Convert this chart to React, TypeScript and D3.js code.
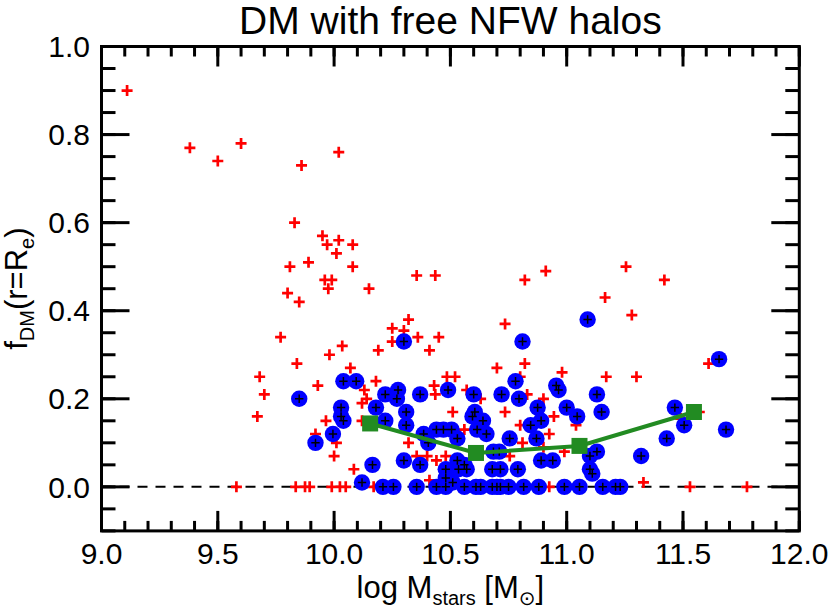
import React from "react";
import * as d3 from "d3";

// All galaxies (red crosses) that are not covered by blue circles
const crossX = [
  9.11, 9.38, 9.5, 9.6, 9.86, 10.02, 9.83, 9.95, 9.97, 10.02, 10.01, 9.81, 9.89, 10.08, 10.08,
  9.96, 9.99, 9.975, 10.15, 9.8, 9.85, 10.355, 10.435, 10.32, 10.25, 10.3, 10.36, 10.45, 10.25,
  9.77, 10.035, 10.19, 9.98, 10.41, 9.84, 10.07, 9.68, 9.7, 9.67, 9.93, 10.18, 10.485, 10.52,
  10.13, 10.43, 10.435, 10.14, 10.12, 9.965, 10.12, 9.92, 10.01, 10.0, 10.32, 10.085, 10.355,
  10.4, 10.44, 10.41, 10.82, 10.91, 11.255, 11.42, 11.165, 11.28, 10.735, 10.82, 10.7, 10.98,
  11.17, 11.3, 10.8, 10.755, 10.925, 10.99, 10.945, 11.04, 10.83, 10.9, 10.735, 10.8, 11.33,
  10.48, 10.56, 10.51, 10.63, 10.57, 11.61, 11.49, 11.53, 11.775, 10.81, 10.9, 9.58, 9.835,
  9.875, 9.895, 9.99, 10.025, 10.05, 10.17, 10.925, 11.57,
];
const crossY = [
  0.9, 0.77, 0.74, 0.78, 0.73, 0.76, 0.6, 0.57, 0.55, 0.56, 0.53, 0.5, 0.51, 0.55, 0.5,
  0.47, 0.47, 0.45, 0.45, 0.44, 0.42, 0.48, 0.48, 0.38, 0.36, 0.355, 0.34, 0.34, 0.33,
  0.34, 0.32, 0.31, 0.3, 0.31, 0.28, 0.27, 0.25, 0.21, 0.16, 0.23, 0.24, 0.25, 0.25,
  0.22, 0.23, 0.21, 0.2, 0.19, 0.15, 0.15, 0.12, 0.1, 0.07, 0.1, 0.04, 0.07,
  0.07, 0.06, 0.015, 0.47, 0.49, 0.5, 0.47, 0.43, 0.39, 0.37, 0.28, 0.27, 0.26,
  0.25, 0.25, 0.25, 0.07, 0.12, 0.08, 0.16, 0.14, 0.21, 0.2, 0.17, 0.14, 0.01,
  0.07, 0.13, 0.17, 0.2, 0.22, 0.28, 0.155, 0.0, 0.0, 0.1, 0.09, 0.0, 0.0,
  0.0, 0.0, 0.0, 0.0, 0.0, 0.0, 0.0, 0.17,
];

// Galaxies marked with blue circles
const circleX = [
  10.3, 9.85, 10.04, 10.095, 10.22, 10.275, 10.27, 10.37, 10.49, 10.03, 10.03, 10.04, 10.18,
  10.22, 10.31, 10.31, 9.995, 9.92, 10.385, 10.405, 10.44, 10.47, 10.505, 10.165, 10.3, 10.37,
  10.48, 10.48, 10.12, 11.09, 10.81, 10.6, 10.78, 10.72, 10.795, 10.955, 10.965, 11.13, 11.15,
  11.0, 11.045, 10.875, 10.89, 10.845, 10.87, 10.755, 10.605, 10.595, 10.64, 10.615, 10.655,
  10.53, 11.43, 11.32, 11.465, 11.505, 11.655, 11.685, 11.13, 11.1, 11.1, 11.11, 10.89, 10.94,
  10.79, 10.68, 10.715, 10.685, 10.71, 10.53, 10.535, 10.57, 10.56, 10.51,
  10.21, 10.255, 10.355, 10.44, 10.48, 10.56, 10.61, 10.63, 10.68, 10.7, 10.715, 10.75, 10.815,
  10.88, 10.99, 11.055, 11.155, 11.21, 11.23,
];
const circleY = [
  0.33, 0.2, 0.24, 0.24, 0.21, 0.22, 0.2, 0.21, 0.22, 0.18, 0.16, 0.15, 0.18,
  0.15, 0.17, 0.14, 0.12, 0.1, 0.12, 0.1, 0.13, 0.13, 0.13, 0.05, 0.06, 0.05,
  0.04, 0.02, 0.01, 0.38, 0.33, 0.21, 0.24, 0.21, 0.2, 0.23, 0.22, 0.21, 0.17,
  0.18, 0.16, 0.18, 0.15, 0.14, 0.11, 0.11, 0.17, 0.16, 0.15, 0.13, 0.12,
  0.11, 0.11, 0.07, 0.18, 0.14, 0.29, 0.13, 0.08, 0.07, 0.04, 0.03, 0.06, 0.06,
  0.04, 0.04, 0.04, 0.08, 0.08, 0.06, 0.04, 0.04, 0.05, 0.01,
  0, 0, 0, 0, 0, 0, 0, 0, 0, 0, 0, 0, 0,
  0, 0, 0, 0, 0, 0,
];

// Binned medians (green)
const binX = [10.155, 10.61, 11.055, 11.547];
const binY = [0.144, 0.077, 0.093, 0.17];

const xTickLabels = ["9.0", "9.5", "10.0", "10.5", "11.0", "11.5", "12.0"];
const yTickLabels = ["0.0", "0.2", "0.4", "0.6", "0.8", "1.0"];

const W = 830;
const H = 614;
const FONT = "'Liberation Sans', Arial, Helvetica, sans-serif";

export default function App() {
  const x = d3.scaleLinear().domain([9, 12]).range([101.5, 799.3]);
  const y = d3.scaleLinear().domain([-0.1, 1.0]).range([530.9, 46.5]);
  const [x0, x1] = x.range();
  const [yb, yt] = y.range();

  const xMinor = d3.range(90, 121).map((v) => v / 10);
  const xMajor = xTickLabels.map(Number);
  const yMinor = d3.range(-2, 21).map((v) => v / 20);
  const yMajor = yTickLabels.map(Number);

  const line = d3
    .line<number>()
    .x((_, i) => x(binX[i]))
    .y((_, i) => y(binY[i]));

  const cross = (cx: number, cy: number, s: number) =>
    `M${cx - s},${cy}H${cx + s}M${cx},${cy - s}V${cy + s}`;

  const redPts = crossX.map((v, i) => [v, crossY[i]]).concat(circleX.map((v, i) => [v, circleY[i]]));
  const bluePts = circleX.map((v, i) => [v, circleY[i]]);

  const sq = 16;

  return (
    <svg
      width={W}
      height={H}
      style={{ position: "absolute", left: 0, top: 0, background: "#fff" }}
      fontFamily={FONT}
    >
      <rect x={0} y={0} width={W} height={H} fill="#fff" />
      {/* title */}
      <text x={(x0 + x1) / 2} y={34} textAnchor="middle" fontSize={39}>
        DM with free NFW halos
      </text>

      {/* zero line */}
      <line x1={x0} x2={x1} y1={y(0)} y2={y(0)} stroke="#000" strokeWidth={2} strokeDasharray="10,8" />

      {/* red crosses */}
      <path
        d={redPts.map((p) => cross(x(p[0]), y(p[1]), 5.5)).join("")}
        stroke="#ff0000"
        strokeWidth={2.7}
        fill="none"
      />
      {/* blue circles */}
      {bluePts.map((p, i) => (
        <circle key={i} cx={x(p[0])} cy={y(p[1])} r={8.2} fill="#0000ff" />
      ))}
      {/* black crosses on circles */}
      <path
        d={bluePts.map((p) => cross(x(p[0]), y(p[1]), 4.2)).join("")}
        stroke="#000"
        strokeWidth={1.5}
        fill="none"
      />

      {/* green binned line */}
      <path d={line(binX) || ""} stroke="#228b22" strokeWidth={4} fill="none" />
      {binX.map((v, i) => (
        <rect key={i} x={x(v) - sq / 2} y={y(binY[i]) - sq / 2} width={sq} height={sq} fill="#228b22" />
      ))}

      {/* ticks */}
      <g stroke="#000" strokeWidth={3}>
        {xMinor.map((v, i) => (
          <g key={"xm" + i}>
            <line x1={x(v)} x2={x(v)} y1={yb} y2={yb - 10} />
            <line x1={x(v)} x2={x(v)} y1={yt} y2={yt + 10} />
          </g>
        ))}
        {xMajor.map((v, i) => (
          <g key={"xM" + i}>
            <line x1={x(v)} x2={x(v)} y1={yb} y2={yb - 20} />
            <line x1={x(v)} x2={x(v)} y1={yt} y2={yt + 20} />
          </g>
        ))}
        {yMinor.map((v, i) => (
          <g key={"ym" + i}>
            <line x1={x0} x2={x0 + 14} y1={y(v)} y2={y(v)} />
            <line x1={x1} x2={x1 - 14} y1={y(v)} y2={y(v)} />
          </g>
        ))}
        {yMajor.map((v, i) => (
          <g key={"yM" + i}>
            <line x1={x0} x2={x0 + 28} y1={y(v)} y2={y(v)} />
            <line x1={x1} x2={x1 - 28} y1={y(v)} y2={y(v)} />
          </g>
        ))}
      </g>
      {/* frame */}
      <rect x={x0} y={yt} width={x1 - x0} height={yb - yt} fill="none" stroke="#000" strokeWidth={3} />

      {/* tick labels */}
      {xTickLabels.map((t, i) => (
        <text key={"xl" + i} x={x(xMajor[i])} y={564} textAnchor="middle" fontSize={30}>
          {t}
        </text>
      ))}
      {yTickLabels.map((t, i) => (
        <text key={"yl" + i} x={90} y={y(yMajor[i]) + 10.7} textAnchor="end" fontSize={30}>
          {t}
        </text>
      ))}

      {/* x label */}
      <text x={(x0 + x1) / 2} y={598} textAnchor="middle" fontSize={31}>
        log M
        <tspan fontSize={20} dy={7}>stars</tspan>
        <tspan dy={-7}> [M</tspan>
        <tspan fontSize={20} dy={7} fontFamily="'DejaVu Sans', sans-serif">⊙</tspan>
        <tspan dy={-7}>]</tspan>
      </text>

      {/* y label */}
      <text transform={`translate(27,${(yt + yb) / 2}) rotate(-90)`} textAnchor="middle" fontSize={31}>
        f
        <tspan fontSize={20} dy={7}>DM</tspan>
        <tspan dy={-7}>(r=R</tspan>
        <tspan fontSize={20} dy={7}>e</tspan>
        <tspan dy={-7}>)</tspan>
      </text>
    </svg>
  );
}
